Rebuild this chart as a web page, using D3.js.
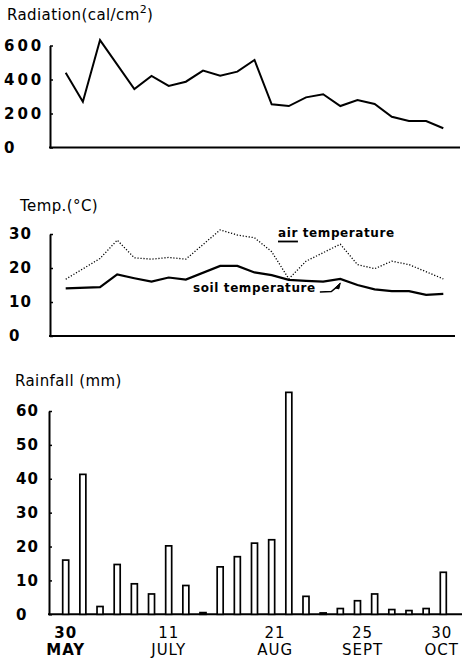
<!DOCTYPE html>
<html><head><meta charset="utf-8">
<script src="https://cdn.jsdelivr.net/npm/d3@7"></script>
<style>
body{margin:0;background:#fff;}
svg{display:block;font-family:"DejaVu Sans",sans-serif;}
</style></head>
<body><svg id="c" width="463" height="664"></svg>
<script>
// ---- data ----
const radWeeks = [0,1,2,4,5,6,7,8,9,10,11,12,13,14,15,16,17,18,19,20,21,22];
const radiation = [440,269,632,344,421,362,387,452,422,446,515,254,244,295,313,244,279,256,181,156,156,113];
const radTicks = [0,200,400,600];

const airWeeks = [0,2,3,4,5,6,7,9,10,11,12,13,14,15,16,17,18,19,20,22];
const airTemp = [16.7,22.8,28.2,23.0,22.6,23.1,22.6,31.2,29.7,28.9,24.8,16.8,22.0,24.5,27.0,21.0,19.8,22.0,21.0,16.8];
const soilWeeks = [0,2,3,4,5,6,7,9,10,11,12,13,14,15,16,17,18,19,20,21,22];
const soilTemp = [14.0,14.4,18.1,17.0,16.0,17.2,16.6,20.6,20.6,18.7,17.9,16.5,16.2,16.0,16.8,15.0,13.7,13.2,13.2,12.1,12.4];
const tempTicks = [0,10,20,30];

const rainWeeks = d3.range(23);
const rainfall = [16,41.3,2.3,14.7,9,6,20.2,8.5,0.5,14,17,21,22,65.5,5.3,0.4,1.7,4,6,1.4,1.1,1.7,12.4];
const rainTicks = [0,10,20,30,40,50,60];

const dateTickWeeks = [0,6,12.2,17.3,22.3];
const dateTickDay = ["30","11","21","25","30"];
const dateTickMonth = ["MAY","JULY","AUG","SEPT","OCT"];

// ---- drawing ----
const svg = d3.select("#c");
const x = d3.scaleLinear().domain([0,22]).range([65.7,443.3]);

function panel(opts){
  const g = svg.append("g");
  const y = d3.scaleLinear().domain(opts.domain).range(opts.range);
  g.append("line").attr("x1",opts.axisX-1).attr("x2",opts.xEnd)
    .attr("y1",y(0)).attr("y2",y(0)).attr("stroke","#000").attr("stroke-width",2);
  const ax = g.append("g").attr("transform",`translate(${opts.axisX},0)`)
    .call(d3.axisLeft(y).tickValues(opts.ticks).tickSize(-3).tickSizeOuter(0));
  ax.select(".domain").attr("stroke-width",2);
  ax.selectAll(".tick line").attr("stroke-width",1.5);
  ax.selectAll("text").attr("text-anchor","start").attr("x",opts.labelX-opts.axisX)
    .attr("font-size",opts.fs).attr("font-weight","bold").attr("letter-spacing",opts.ls)
    .attr("fill","#000").attr("font-family","DejaVu Sans");
  g.append("text").attr("x",opts.titleX).attr("y",opts.titleY)
    .attr("font-size",15).attr("letter-spacing",0.4).attr("fill","#000")
    .html(opts.title);
  return {g,y};
}

// Radiation
const R = panel({domain:[0,600],range:[147.5,45.5],axisX:50,xEnd:460,ticks:radTicks,labelX:4,fs:15,ls:3,
  titleX:7,titleY:20,title:'Radiation(cal/cm<tspan dy="-7" font-size="11">2</tspan><tspan dy="7">)</tspan>'});
R.g.append("path").datum(radWeeks.map((w,i)=>[w,radiation[i]]))
  .attr("fill","none").attr("stroke","#000").attr("stroke-width",2).attr("stroke-linejoin","miter")
  .attr("d",d3.line().x(d=>x(d[0])).y(d=>R.y(d[1])));

// Temperature
const T = panel({domain:[0,30],range:[336,234],axisX:50,xEnd:455,ticks:tempTicks,labelX:9,fs:15,ls:1,
  titleX:20,titleY:211,title:'Temp.(°C)'});
T.g.append("path").datum(airWeeks.map((w,i)=>[w,airTemp[i]]))
  .attr("fill","none").attr("stroke","#000").attr("stroke-width",1.3).attr("stroke-dasharray","1.2 1.8")
  .attr("d",d3.line().x(d=>x(d[0])).y(d=>T.y(d[1])));
T.g.append("path").datum(soilWeeks.map((w,i)=>[w,soilTemp[i]]))
  .attr("fill","none").attr("stroke","#000").attr("stroke-width",2.2)
  .attr("d",d3.line().x(d=>x(d[0])).y(d=>T.y(d[1])));

const airLbl = T.g.append("text").attr("x",278).attr("y",237).attr("font-size",12)
  .attr("font-weight","bold").attr("letter-spacing",0.6).attr("fill","#000").text("air temperature");
const airW = airLbl.node().getSubStringLength(0,3);
T.g.append("line").attr("x1",278).attr("x2",278+airW).attr("y1",241.5).attr("y2",241.5)
  .attr("stroke","#000").attr("stroke-width",1.8);

const soilLbl = T.g.append("text").attr("x",193).attr("y",292).attr("font-size",12)
  .attr("font-weight","bold").attr("letter-spacing",0.6).attr("fill","#000").text("soil temperature");
const sEnd = 193 + soilLbl.node().getComputedTextLength();
const tx = x(16), ty = T.y(soilTemp[soilWeeks.indexOf(16)]);
T.g.append("path").attr("d",`M${sEnd+4},292 L${tx-9},291.5 L${tx-1},${ty+6}`)
  .attr("fill","none").attr("stroke","#000").attr("stroke-width",1.5);
T.g.append("path").attr("d",`M${tx},${ty+4} L${tx-5},${ty+9} L${tx-1.5},${ty+10} Z`)
  .attr("fill","#000").attr("stroke","#000").attr("stroke-width",1);

// Rainfall
const P = panel({domain:[0,60],range:[614.3,411],axisX:49,xEnd:462,ticks:rainTicks,labelX:16,fs:15,ls:1,
  titleX:15,titleY:386,title:'Rainfall (mm)'});
const bw = 6;
P.g.selectAll("rect.bar").data(rainWeeks.map((w,i)=>[w,rainfall[i]])).join("rect")
  .attr("class","bar")
  .attr("x",d=>x(d[0])-bw/2).attr("width",bw)
  .attr("y",d=>P.y(d[1])).attr("height",d=>P.y(0)-P.y(d[1]))
  .attr("fill","#fff").attr("stroke","#000").attr("stroke-width",1.7);

// date labels
const dl = svg.append("g");
dateTickWeeks.forEach((w,i)=>{
  const g = dl.append("g");
  const t = g.append("text").attr("text-anchor","middle").attr("font-size",15)
    .attr("letter-spacing",1).attr("fill","#000").attr("font-weight", i===0?"bold":"normal");
  t.append("tspan").attr("x",x(w)).attr("y",638).text(dateTickDay[i]);
  t.append("tspan").attr("x",x(w)).attr("y",655).text(dateTickMonth[i]);
  const bb = t.node().getBBox();
  const over = bb.x + bb.width - 459;
  if (over > 0) g.attr("transform",`translate(${-over},0)`);
});
</script></body></html>
